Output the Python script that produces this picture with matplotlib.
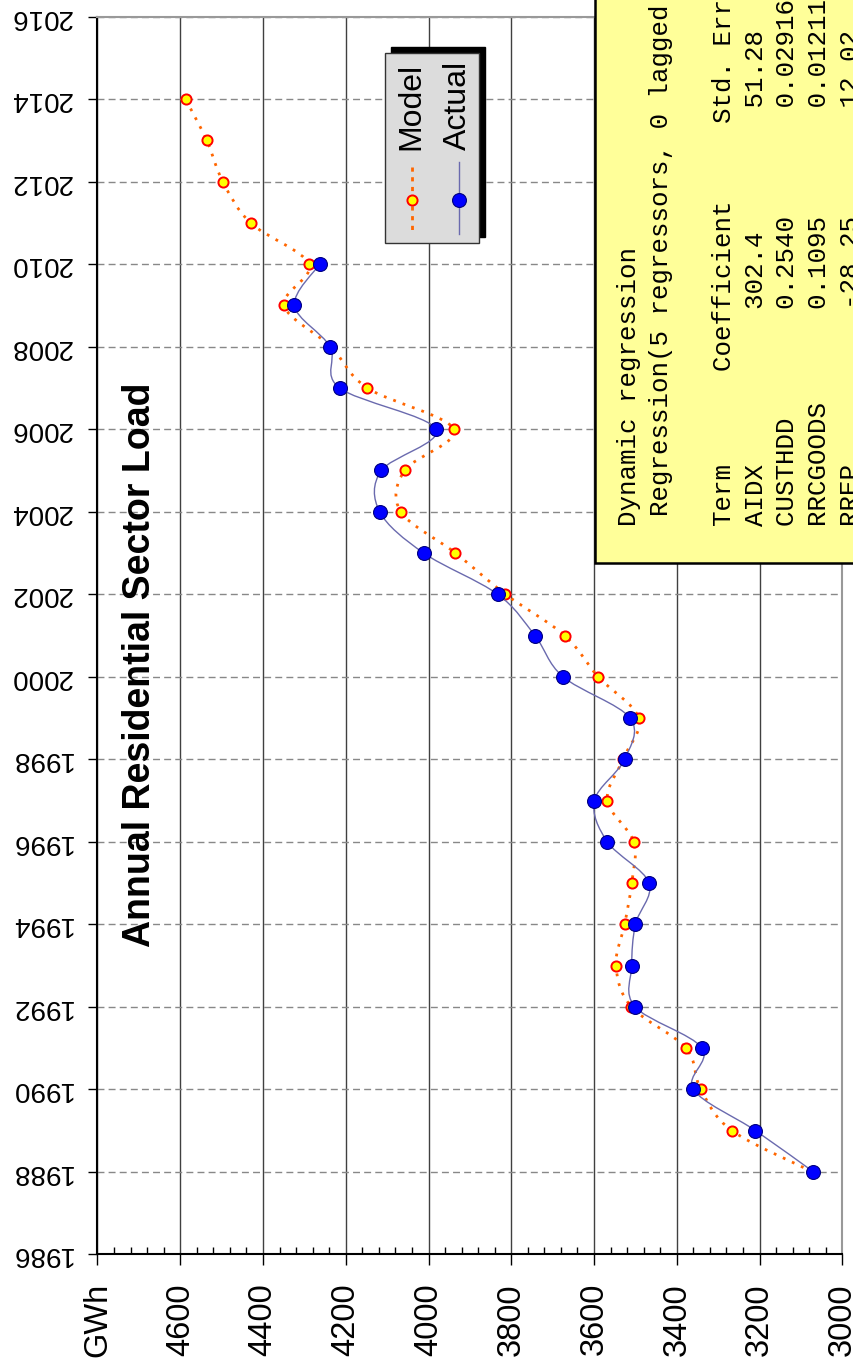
"""Annual residential sector load: actual vs. dynamic regression model (rotated layout)."""
import matplotlib
matplotlib.use("Agg")
import matplotlib.pyplot as plt
import numpy as np
from matplotlib.lines import Line2D
from matplotlib.patches import PathPatch, Rectangle
from matplotlib.path import Path
from matplotlib.ticker import MultipleLocator

plt.rcParams["font.family"] = ["Liberation Sans", "DejaVu Sans"]

# --- data -------------------------------------------------------------
years_actual = list(range(1988, 2011))
actual = [3070, 3210, 3360, 3339, 3501, 3509, 3500, 3467, 3568, 3599, 3526, 3513,
          3675, 3743, 3833, 4012, 4118, 4114, 3982, 4215, 4238, 4324, 4263]

years_model = list(range(1988, 2015))
model = [3072, 3267, 3342, 3378, 3510, 3547, 3526, 3509, 3504, 3568, 3530, 3492,
         3590, 3671, 3814, 3935, 4067, 4058, 3939, 4148, 4236, 4349, 4289, 4430,
         4497, 4536, 4587]

gwh_ticks = list(range(3000, 4801, 200))
gwh_labels = [str(v) for v in gwh_ticks[:-1]] + ["GWh"]
year_ticks = list(range(1986, 2017, 2))

stats_title = "Dynamic regression"
stats_model = "Regression(5 regressors, 0 lagged errors)"
stats_terms = ["AIDX", "CUSTHDD", "RRCGOODS", "RREP"]
stats_coef = ["302.4", "0.2540", "0.1095", "-28.25"]
stats_se = ["51.28", "0.02916", "0.01211", "12.02"]

ORANGE = "#FF6600"
SLATE = "#6A6AAE"

W, H = 854, 1368


def fx(px):
    return px / W


def fy(py):
    return 1 - py / H


def smooth_path(xs, ys):
    """Bezier path through the points (Excel-style smoothed line)."""
    pts = np.column_stack([xs, ys]).astype(float)
    n = len(pts)
    verts, codes = [pts[0]], [Path.MOVETO]
    for i in range(n - 1):
        p0 = pts[i - 1] if i > 0 else pts[i]
        p3 = pts[i + 2] if i + 2 < n else pts[i + 1]
        c1 = pts[i] + (pts[i + 1] - p0) / 6
        c2 = pts[i + 1] - (p3 - pts[i]) / 6
        verts += [c1, c2, pts[i + 1]]
        codes += [Path.CURVE4] * 3
    return Path(verts, codes)


fig = plt.figure(figsize=(W / 100, H / 100), dpi=100)
ax = fig.add_axes([fx(97.5), fy(1254.3), fx(842.3 - 97.5), (1254.3 - 16.7) / H])

# model: dotted orange curve with yellow/red markers
ax.add_patch(PathPatch(smooth_path(model, years_model), fill=False, ec=ORANGE,
                       lw=2.0, ls=(0, (1, 2.6)), zorder=3))
ax.plot(model, years_model, ls="none", marker="o", ms=7.3, mfc="#FFFF00",
        mec="#FF0000", mew=1.4, zorder=4)

# actual: thin slate curve with blue markers
ax.add_patch(PathPatch(smooth_path(actual, years_actual), fill=False, ec=SLATE,
                       lw=1.0, zorder=5))
ax.plot(actual, years_actual, ls="none", marker="o", ms=10, mfc="#0000FF",
        mec="#000080", mew=0.8, zorder=6)

ax.set_xlim(4800, 3000)
ax.set_ylim(1986, 2016)
ax.set_xticks(gwh_ticks)
ax.set_xticklabels(gwh_labels)
ax.set_yticks(year_ticks)
ax.xaxis.set_minor_locator(MultipleLocator(40))

ax.xaxis.grid(True, which="major", color="#404040", lw=1.0)
ax.yaxis.grid(True, color="#888888", lw=1.0, ls=(0, (5, 3)))
ax.set_axisbelow(True)

ax.tick_params(axis="x", which="major", direction="out", length=7.7, width=1,
               pad=13, labelsize=23.5, labelrotation=90)
ax.tick_params(axis="x", which="minor", direction="in", length=4.8, width=1)
ax.tick_params(axis="y", direction="out", length=6.7, width=1, pad=12,
               labelsize=20, labelrotation=180)
for lbl in ax.get_yticklabels():
    lbl.set_va("center")

for side in ("left", "bottom"):
    ax.spines[side].set_color("black")
    ax.spines[side].set_linewidth(1.5)
for side in ("top", "right"):
    ax.spines[side].set_color("#999999")
    ax.spines[side].set_linewidth(1.5)

fig.text(fx(140), fy(665), "Annual Residential Sector Load", rotation=90,
         ha="center", va="center", fontsize=27, fontweight="bold")

# legend drawn by hand so the entries can be turned sideways
x0, x1, y0, y1 = 385, 479, 53, 243
fig.add_artist(Rectangle((fx(x0 + 6), fy(y1 - 6)), (x1 - x0) / W, (y1 - y0) / H,
                         transform=fig.transFigure, fc="black", ec="black", zorder=10))
fig.add_artist(Rectangle((fx(x0), fy(y1)), (x1 - x0) / W, (y1 - y0) / H,
                         transform=fig.transFigure, fc="#DCDCDC", ec="#333333",
                         lw=1, zorder=11))
fig.add_artist(Line2D([fx(412), fx(412)], [fy(167), fy(234)], transform=fig.transFigure,
                      color=ORANGE, lw=2.0, ls=(0, (1.5, 2)), zorder=12))
fig.add_artist(Line2D([fx(412)], [fy(200)], transform=fig.transFigure, marker="o",
                      ms=7.3, mfc="#FFFF00", mec="#FF0000", mew=1.4, zorder=13))
fig.add_artist(Line2D([fx(459), fx(459)], [fy(162), fy(234)], transform=fig.transFigure,
                      color=SLATE, lw=1.0, zorder=12))
fig.add_artist(Line2D([fx(459)], [fy(200)], transform=fig.transFigure, marker="o",
                      ms=10, mfc="#0000FF", mec="#000080", mew=0.8, zorder=13))
fig.text(fx(411), fy(150), "Model", rotation=90, ha="center", va="bottom",
         fontsize=23, zorder=14)
fig.text(fx(458), fy(150), "Actual", rotation=90, ha="center", va="bottom",
         fontsize=23, zorder=14)

# regression summary box, running off the edge of the figure
fig.add_artist(Rectangle((fx(595), fy(563)), 300 / W, 600 / H, transform=fig.transFigure,
                         fc="#FFFF99", ec="black", lw=1.8, zorder=20))
lines = [stats_title, stats_model, "",
         f"{'Term':<10}{'Coefficient':<16}Std. Error"]
lines += [f"{t:<14}{c:<13}{s}" for t, c, s in zip(stats_terms, stats_coef, stats_se)]
for i, line in enumerate(lines):
    if not line:
        continue
    start = 516 if line == stats_model else 526
    fig.text(fx(629.5 + i * 31.6), fy(start), line, rotation=90, ha="center",
             va="bottom", family="Liberation Mono", fontsize=18.6, zorder=21)

fig.savefig("out.png", dpi=100)
